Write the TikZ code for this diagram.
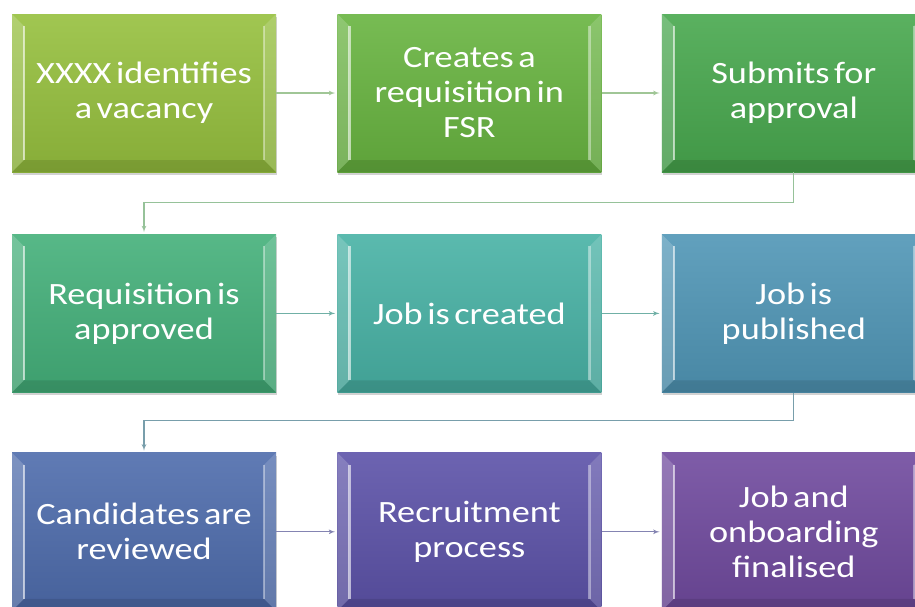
\documentclass[tikz,border=0pt]{standalone}
\usepackage{fontspec}
\setmainfont{Carlito}
\newfontfamily\blockfamily[FakeStretch=1.17]{Carlito}
\newcommand\blockfont{\blockfamily\fontsize{31}{35}\selectfont\fontdimen2\font=4.5pt\relax}
\usetikzlibrary{shapes,arrows,positioning,shadows}
\definecolor{stepA}{RGB}{150,192,62}
\definecolor{stepB}{RGB}{104,180,64}
\definecolor{stepC}{RGB}{72,168,78}
\definecolor{stepD}{RGB}{68,176,122}
\definecolor{stepE}{RGB}{72,178,165}
\definecolor{stepF}{RGB}{80,150,182}
\definecolor{stepG}{RGB}{78,108,172}
\definecolor{stepH}{RGB}{92,82,168}
\definecolor{stepI}{RGB}{112,74,158}
\definecolor{arrA}{RGB}{160,198,150}
\definecolor{arrB}{RGB}{112,176,166}
\definecolor{arrC}{RGB}{132,132,178}
\tikzset{block/.style={rectangle, text=white, inner sep=0pt, text width=248pt, align=flush center,
    minimum width=264pt, minimum height=158pt, font=\blockfont,
    top color=#1!90!white, bottom color=#1!90!black,
    drop shadow={shadow xshift=1pt, shadow yshift=-3pt, opacity=.35},
    path picture={
      \fill[white, opacity=.18] (path picture bounding box.north west) -- (path picture bounding box.south west)
        -- ([xshift=12pt,yshift=12pt]path picture bounding box.south west) -- ([xshift=12pt,yshift=-12pt]path picture bounding box.north west) -- cycle;
      \fill[white, opacity=.15] (path picture bounding box.north east) -- (path picture bounding box.south east)
        -- ([xshift=-12pt,yshift=12pt]path picture bounding box.south east) -- ([xshift=-12pt,yshift=-12pt]path picture bounding box.north east) -- cycle;
      \fill[black, opacity=.1] (path picture bounding box.south west) -- (path picture bounding box.south east)
        -- ([xshift=-12pt,yshift=12pt]path picture bounding box.south east) -- ([xshift=12pt,yshift=12pt]path picture bounding box.south west) -- cycle;
      \draw[white, opacity=.6, line width=2.5pt] ([xshift=12pt,yshift=-12pt]path picture bounding box.north west) -- ([xshift=12pt,yshift=12pt]path picture bounding box.south west);
      \draw[white, opacity=.4, line width=2.5pt] ([xshift=-12pt,yshift=-12pt]path picture bounding box.north east) -- ([xshift=-12pt,yshift=12pt]path picture bounding box.south east);
    }}}
\tikzstyle{line} = [draw, -latex', line width=1.2pt, shorten >=2pt]

\begin{document}
\begin{tikzpicture}[x=1pt, y=-1pt, node distance=60pt]
    \path [use as bounding box, fill=white] (0,0) rectangle (915,606);
    % Place nodes
    \node [block=stepA] (vacancy) at (144,93) {XXXX identifies\\a vacancy};
    \node [block=stepB, right=61pt of vacancy] (requisition) {Creates a\\requisition in\\FSR};
    \node [block=stepC, right=60pt of requisition] (submit) {Submits for\\approval};
    \node [block=stepD, below=62pt of vacancy] (approved) {Requisition is\\approved};
    \node [block=stepE, right=61pt of approved] (created) {Job is created};
    \node [block=stepF, right=60pt of created] (published) {Job is\\published};
    \node [block=stepG, below=60pt of approved] (reviewed) {Candidates are\\reviewed};
    \node [block=stepH, right=61pt of reviewed] (recruitment) {Recruitment\\process};
    \node [block=stepI, right=60pt of recruitment] (finalised) {Job and\\onboarding\\finalised};
    % Draw edges
    \path [line, arrA] (vacancy) -- (requisition);
    \path [line, arrA] (requisition) -- (submit);
    \path [line, arrA!80!arrB] (submit.south) -- ++(0,30) -| (approved.north);
    \path [line, arrB] (approved) -- (created);
    \path [line, arrB] (created) -- (published);
    \path [line, arrB!60!arrC] (published.south) -- ++(0,28) -| (reviewed.north);
    \path [line, arrC] (reviewed) -- (recruitment);
    \path [line, arrC] (recruitment) -- (finalised);
\end{tikzpicture}
\end{document}
